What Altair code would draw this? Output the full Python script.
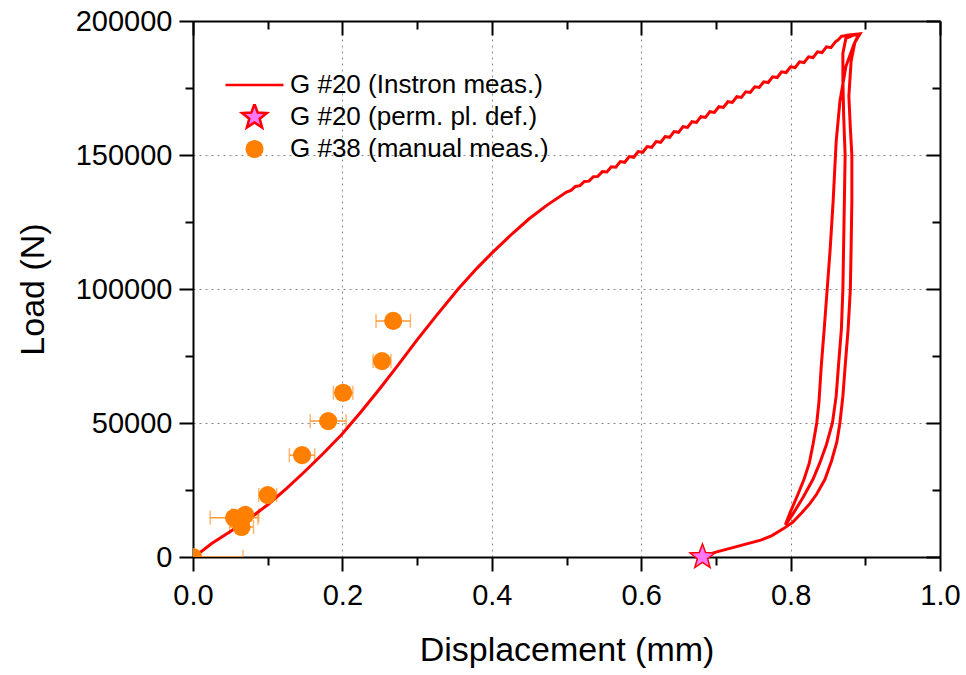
import altair as alt
import pandas as pd

FONT = "Liberation Sans, Arial, Helvetica, sans-serif"

S_LINE = "G #20 (Instron meas.)"
S_STAR = "G #20 (perm. pl. def.)"
S_MAN = "G #38 (manual meas.)"
SERIES = [S_LINE, S_STAR, S_MAN]

# ---- Instron measurement (loading, wavy plateau, unload/reload loops) ----
instron_disp = [
    0.004, 0.025, 0.050, 0.075, 0.100, 0.125, 0.150, 0.175, 0.200, 0.225, 0.250, 0.275, 0.300, 0.325,
    0.355, 0.380, 0.400, 0.428, 0.450, 0.474,
    0.500, 0.506, 0.512, 0.518, 0.524, 0.530, 0.536, 0.542, 0.548, 0.554, 0.560,
    0.566, 0.572, 0.578, 0.584, 0.590, 0.596, 0.602, 0.608, 0.614, 0.620, 0.626, 0.632, 0.638, 0.644,
    0.650, 0.656, 0.662, 0.668, 0.674, 0.680, 0.686, 0.692, 0.698, 0.704, 0.710, 0.716, 0.722, 0.728,
    0.734, 0.740, 0.746, 0.752, 0.758, 0.764, 0.770, 0.776, 0.782, 0.788, 0.794, 0.800, 0.806, 0.812,
    0.818, 0.824, 0.830, 0.836, 0.842, 0.848, 0.854, 0.860,
    0.864, 0.868, 0.878, 0.893,
    0.885, 0.874, 0.866, 0.861, 0.857, 0.853, 0.849, 0.845, 0.841, 0.838, 0.835, 0.830, 0.825, 0.818,
    0.810, 0.800, 0.793,
    0.803, 0.817, 0.830, 0.839, 0.848, 0.856, 0.861, 0.864, 0.868, 0.870, 0.872, 0.873, 0.871, 0.870,
    0.870, 0.874, 0.885, 0.891,
    0.886, 0.881, 0.878, 0.880, 0.882, 0.882, 0.881, 0.880, 0.877, 0.873, 0.870, 0.866, 0.862, 0.855,
    0.846, 0.835, 0.826, 0.815, 0.803, 0.790, 0.775, 0.760, 0.740, 0.720, 0.700, 0.682,
]
instron_load = [
    500, 5000, 9500, 14200, 19500, 25500, 32000, 38800, 46000, 54200, 62800, 71800, 81000, 89800,
    100000, 107700, 113400, 120800, 126200, 131300,
    136200, 136790, 138280, 138560, 140150, 140240, 141930, 142020, 143800, 143690, 145600,
    145430, 147560, 147290, 149420, 149150, 151280, 151010, 153140, 152870, 155000, 154730, 156860, 156590, 158720,
    158450, 160580, 160310, 162440, 162170, 164300, 164030, 166160, 165890, 168020, 167750, 169880, 169610, 171740,
    171470, 173600, 173330, 175460, 175190, 177320, 177050, 179180, 178910, 181040, 180770, 182900, 182630, 184760,
    184490, 186620, 186350, 188480, 188210, 190340, 190070, 192200,
    193000, 194300, 194800, 195200,
    191500, 183000, 170000, 155000, 133000, 115000, 100000, 85000, 71000, 58000, 50000, 42000, 35000, 29000,
    23500, 17000, 12000,
    16000, 22400, 29000, 35000, 42000, 50000, 60000, 71000, 85000, 100000, 133000, 150000, 165000, 178000,
    188000, 193500, 194800, 195000,
    192000, 185000, 172000, 160000, 150000, 133000, 115000, 100000, 85000, 71000, 60000, 50000, 43000, 36000,
    29000, 23500, 20000, 16500, 13000, 10500, 8000, 6300, 4800, 3300, 1800, 300,
]

# ---- permanent plastic deformation ----
perm_disp = [0.682]
perm_load = [0]

# ---- manual measurements with horizontal error ----
manual_disp = [0.268, 0.253, 0.201, 0.181, 0.146, 0.100, 0.055, 0.070, 0.065, 0.000]
manual_load = [88100, 73100, 61300, 50700, 38000, 23100, 14600, 15700, 11200, 0]
manual_err = [0.023, 0.012, 0.013, 0.024, 0.017, 0.012, 0.032, 0.018, 0.016, 0.067]

x_major = [0.0, 0.2, 0.4, 0.6, 0.8, 1.0]
x_minor = [0.1, 0.3, 0.5, 0.7, 0.9]
y_major = [0, 50000, 100000, 150000, 200000]
y_minor = [25000, 75000, 125000, 175000]

W, H = 747, 536
RED = "#FF0000"
PINK = "#FF77FF"
ORANGE = "#FF8000"
ERR_COLOR = "#FF9933"
# five-pointed star in the [-1, 1] symbol box
STAR_PATH = ("M0,-1L0.247,-0.34L0.951,-0.309L0.399,0.13L0.588,0.809L0,0.42"
             "L-0.588,0.809L-0.399,0.13L-0.951,-0.309L-0.247,-0.34Z")

df_i = pd.DataFrame({"d": instron_disp, "load": instron_load})
df_i["idx"] = range(len(df_i))
df_i["series"] = S_LINE

df_p = pd.DataFrame({"d": perm_disp, "load": perm_load})
df_p["series"] = S_STAR

df_m = pd.DataFrame({"d": manual_disp, "load": manual_load, "err": manual_err})
df_m["lo"] = df_m["d"] - df_m["err"]
df_m["hi"] = df_m["d"] + df_m["err"]
df_m["series"] = S_MAN

x_scale = alt.Scale(domain=[0, 1], nice=False, zero=False)
y_scale = alt.Scale(domain=[0, 200000], nice=False)

stroke_scale = alt.Scale(domain=SERIES, range=[RED, RED, "transparent"])
fill_scale = alt.Scale(domain=SERIES, range=[RED, PINK, ORANGE])
shape_scale = alt.Scale(domain=SERIES, range=["stroke", STAR_PATH, "circle"])
size_scale = alt.Scale(type="ordinal", domain=SERIES, range=[3364, 676, 330])

legend = alt.Legend(
    orient="none", legendX=31, legendY=51, title=None,
    labelFont=FONT, labelFontSize=26, labelColor="black", labelLimit=600,
    labelOffset=5, clipHeight=26, rowPadding=6, padding=0,
    symbolStrokeWidth=2.5, symbolOpacity=1,
)

common_axis = dict(tickColor="black", tickWidth=2, domainColor="black", domainWidth=2)

ax_bottom = alt.Axis(
    orient="bottom", values=x_major, format=".1f",
    title="Displacement (mm)", titleFont=FONT, titleFontSize=34, titleFontWeight="normal",
    titleColor="black", titleX=W / 2, titleY=93, titleAlign="center", titleBaseline="middle",
    labelFont=FONT, labelFontSize=29, labelColor="black", labelPadding=10,
    labelFlush=False, labelOverlap=False, tickSize=14,
    grid=True, gridDash=[2, 4], gridColor="#888888", gridWidth=1, **common_axis,
)
ax_left = alt.Axis(
    orient="left", values=y_major, format="d",
    title="Load (N)", titleFont=FONT, titleFontSize=34, titleFontWeight="normal",
    titleColor="black", titleX=-160, titleY=H / 2, titleAngle=270,
    titleAlign="center", titleBaseline="middle",
    labelFont=FONT, labelFontSize=29, labelColor="black", labelPadding=7,
    labelFlush=False, labelOverlap=False, tickSize=14,
    grid=True, gridDash=[2, 4], gridColor="#888888", gridWidth=1, **common_axis,
)
ax_bottom_minor = alt.Axis(orient="bottom", values=x_minor, labels=False, title=None, grid=False,
                           domain=False, tickSize=8, tickColor="black", tickWidth=2)
ax_left_minor = alt.Axis(orient="left", values=y_minor, labels=False, title=None, grid=False,
                         domain=False, tickSize=8, tickColor="black", tickWidth=2)
ax_top = alt.Axis(orient="bottom", offset=-H, values=x_major, labels=False, title=None, grid=False,
                  tickSize=14, **common_axis)
ax_right = alt.Axis(orient="left", offset=-W, values=y_major, labels=False, title=None, grid=False,
                    tickSize=14, **common_axis)
ax_top_minor = alt.Axis(orient="bottom", offset=-H, values=x_minor, labels=False, title=None, grid=False,
                        domain=False, tickSize=8, tickColor="black", tickWidth=2)
ax_right_minor = alt.Axis(orient="left", offset=-W, values=y_minor, labels=False, title=None, grid=False,
                          domain=False, tickSize=8, tickColor="black", tickWidth=2)

rules = alt.Chart(df_m).mark_rule(color=ERR_COLOR, strokeWidth=1.5, clip=True).encode(
    x=alt.X("lo:Q", scale=x_scale, axis=ax_bottom_minor),
    x2="hi:Q",
    y=alt.Y("load:Q", scale=y_scale, axis=ax_left_minor),
)
caps_lo = alt.Chart(df_m).mark_tick(color=ERR_COLOR, orient="vertical", size=14, thickness=1.5, clip=True).encode(
    x=alt.X("lo:Q", scale=x_scale, axis=None),
    y=alt.Y("load:Q", scale=y_scale, axis=None),
)
caps_hi = alt.Chart(df_m).mark_tick(color=ERR_COLOR, orient="vertical", size=14, thickness=1.5, clip=True).encode(
    x=alt.X("hi:Q", scale=x_scale, axis=None),
    y=alt.Y("load:Q", scale=y_scale, axis=None),
)

line = alt.Chart(df_i).mark_line(strokeWidth=3, clip=True).encode(
    x=alt.X("d:Q", scale=x_scale, axis=ax_bottom),
    y=alt.Y("load:Q", scale=y_scale, axis=ax_left),
    stroke=alt.Stroke("series:N", scale=stroke_scale, legend=legend),
    order="idx:Q",
)

circles = alt.Chart(df_m).mark_point(opacity=1, strokeWidth=1, clip=True).encode(
    x=alt.X("d:Q", scale=x_scale, axis=ax_top),
    y=alt.Y("load:Q", scale=y_scale, axis=ax_right),
    fill=alt.Fill("series:N", scale=fill_scale, legend=legend),
    stroke=alt.Stroke("series:N", scale=stroke_scale, legend=legend),
    shape=alt.Shape("series:N", scale=shape_scale, legend=legend),
    size=alt.Size("series:N", scale=size_scale, legend=legend),
)

star = alt.Chart(df_p).mark_point(opacity=1, strokeWidth=1.5).encode(
    x=alt.X("d:Q", scale=x_scale, axis=ax_top_minor),
    y=alt.Y("load:Q", scale=y_scale, axis=ax_right_minor),
    fill=alt.Fill("series:N", scale=fill_scale, legend=legend),
    stroke=alt.Stroke("series:N", scale=stroke_scale, legend=legend),
    shape=alt.Shape("series:N", scale=shape_scale, legend=legend),
    size=alt.Size("series:N", scale=size_scale, legend=legend),
)

chart = (
    alt.layer(rules, caps_lo, caps_hi, line, circles, star)
    .resolve_axis(x="independent", y="independent")
    .properties(
        width=W, height=H,
        padding={"left": 193, "top": 21, "right": 26, "bottom": 118},
        autosize=alt.AutoSizeParams(type="none"),
        background="white",
    )
    .configure_view(strokeWidth=0)
)

chart.save("out.html", embed_options={"renderer": "svg", "actions": False})
